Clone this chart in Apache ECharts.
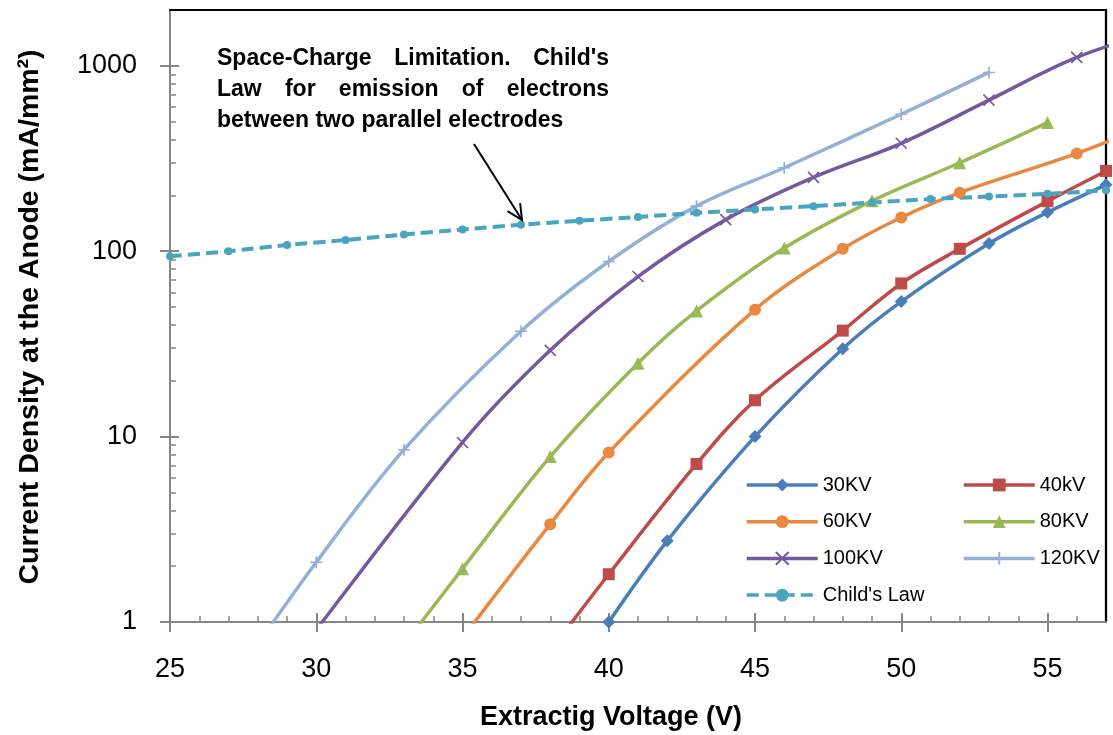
<!DOCTYPE html>
<html>
<head>
<meta charset="utf-8">
<script src="https://cdn.jsdelivr.net/npm/echarts@6/dist/echarts.min.js"></script>
<style>
html,body{margin:0;padding:0;background:#fff;}
#chart{width:1113px;height:735px;}
</style>
</head>
<body>
<div id="chart"></div>
<script>
// ---- data ----
const x30 = [40, 42, 45, 48, 50, 53, 55, 57];
const y30 = [1.0, 2.74, 10, 29.8, 53.5, 110, 162, 228];
const x40 = [38, 40, 43, 45, 48, 50, 52, 55, 57];
const y40 = [0.70, 1.81, 7.12, 15.7, 37.3, 67, 103, 186, 271];
const x60 = [35, 38, 40, 45, 48, 50, 52, 56, 59];
const y60 = [0.82, 3.37, 8.2, 48.4, 103, 152, 207, 337, 520];
const x80 = [32, 35, 38, 41, 43, 46, 49, 52, 55];
const y80 = [0.47, 1.94, 7.8, 24.9, 47.6, 104, 187, 300, 494];
const x100 = [29, 35, 38, 41, 44, 47, 50, 53, 56, 59];
const y100 = [0.56, 9.3, 29.2, 73, 148, 250, 382, 653, 1110, 1580];
const x120 = [27, 30, 33, 37, 40, 43, 46, 50, 53];
const y120 = [0.45, 2.1, 8.5, 37, 88, 175, 282, 548, 921];
const xChild = [25, 27, 29, 31, 33, 35, 37, 39, 41, 43, 45, 47, 49, 51, 53, 55, 57];
const yChild = [94, 100, 108, 115, 123, 131, 139, 146, 153, 161, 168, 175, 183, 191, 197, 204, 213];

const seriesNames = ['30KV', '40kV', '60KV', '80KV', '100KV', '120KV', "Child's Law"];
const xTicks = [25, 30, 35, 40, 45, 50, 55];
const yTicks = [1, 10, 100, 1000];
const yMinorTicks = [2, 3, 4, 5, 6, 7, 8, 9, 20, 30, 40, 50, 60, 70, 80, 90, 200, 300, 400, 500, 600, 700, 800, 900];
const xTitle = 'Extractig Voltage (V)';
const yTitle = 'Current Density at the Anode (mA/mm\u00B2)';
const noteLines = [
  ['Space-Charge', 'Limitation.', "Child's"],
  ['Law', 'for', 'emission', 'of', 'electrons'],
  ['between two parallel electrodes']
];

// ---- styling ----
const FONT = '"Liberation Sans", Arial, sans-serif';
const AXIS_GRAY = '#868686';
function pairs(xs, ys) { return xs.map((x, i) => [x, ys[i]]); }

const CROSS = 'path://M0,0L10,10M10,0L0,10';
const PLUS = 'path://M5,0L5,10M0,5L10,5';

function lineSeries(name, xs, ys, color, symbol, size, extra) {
  const stroked = (symbol === CROSS || symbol === PLUS);
  return Object.assign({
    name: name,
    type: 'line',
    data: pairs(xs, ys),
    smooth: 0.35,
    clip: true,
    symbol: symbol,
    symbolSize: size,
    showSymbol: true,
    lineStyle: { color: color, width: 3.5 },
    itemStyle: stroked ? { color: color, borderColor: color, borderWidth: 1.6 }
                       : { color: color, borderWidth: 0 },
    emphasis: { disabled: true },
    z: 3
  }, extra || {});
}

const chart = echarts.init(document.getElementById('chart'), null, { renderer: 'canvas' });

const series = [
  lineSeries(seriesNames[0], x30, y30, '#4A7EBB', 'diamond', 13),
  lineSeries(seriesNames[1], x40, y40, '#BE4B48', 'rect', 12),
  lineSeries(seriesNames[2], x60, y60, '#E9883F', 'circle', 12),
  lineSeries(seriesNames[3], x80, y80, '#98B954', 'triangle', 13),
  lineSeries(seriesNames[4], x100, y100, '#7559A0', CROSS, 11),
  lineSeries(seriesNames[5], x120, y120, '#93B0D8', PLUS, 12),
  lineSeries(seriesNames[6], xChild, yChild, '#48A5C0', 'circle', 8, {
    lineStyle: { color: '#48A5C0', width: 4, type: [12, 6] },
    smooth: 0.2
  })
];

// arrow geometry (annotation)
const arrowStart = [474, 144], arrowTip = [522, 220];
function headPts() {
  const dx = arrowStart[0] - arrowTip[0], dy = arrowStart[1] - arrowTip[1];
  const L = Math.hypot(dx, dy), ux = dx / L, uy = dy / L;
  const len = 17, a = 26 * Math.PI / 180;
  const r = (s) => [arrowTip[0] + len * (ux * Math.cos(s) - uy * Math.sin(s)),
                    arrowTip[1] + len * (ux * Math.sin(s) + uy * Math.cos(s))];
  return [r(a), arrowTip.slice(), r(-a)];
}

// justified annotation text
const annFont = 'bold 23px ' + FONT;
const measureCtx = document.createElement('canvas').getContext('2d');
measureCtx.font = annFont;
function justifiedLine(words, y, left, right, justify) {
  const widths = words.map(w => measureCtx.measureText(w).width);
  const total = widths.reduce((a, b) => a + b, 0);
  const gap = (justify && words.length > 1) ? (right - left - total) / (words.length - 1)
                                            : measureCtx.measureText(' ').width;
  let x = left;
  return words.map((w, i) => {
    const el = { type: 'text', x: x, y: y, z: 10,
      style: { text: w, font: annFont, fill: '#000', textAlign: 'left', textVerticalAlign: 'middle' } };
    x += widths[i] + gap;
    return el;
  });
}
const noteY = [59, 90, 121];
const noteEls = [].concat(
  justifiedLine(noteLines[0], noteY[0], 217, 609, true),
  justifiedLine(noteLines[1], noteY[1], 217, 609, true),
  justifiedLine(noteLines[2], noteY[2], 217, 609, false)
);

const legendCommon = {
  orient: 'vertical', top: 474, padding: 0,
  itemWidth: 71, itemHeight: 16, itemGap: 14.7,
  textStyle: { fontSize: 20, color: '#000', fontFamily: FONT, lineHeight: 22 },
  lineStyle: { width: 3.5 },
  selectedMode: false
};

const option = {
  animation: false,
  backgroundColor: '#fff',
  textStyle: { fontFamily: FONT },
  grid: { left: 170, top: 10, right: 7, bottom: 113, containLabel: false },
  legend: [
    Object.assign({ data: ['30KV', '60KV', '100KV', "Child's Law"], left: 745 }, legendCommon),
    Object.assign({ data: ['40kV', '80KV', '120KV'], left: 962 }, legendCommon)
  ],
  xAxis: [
    {
      type: 'value', min: 25, max: 57, interval: 5, position: 'bottom',
      axisLine: { show: true, lineStyle: { color: AXIS_GRAY, width: 2 } },
      axisTick: { show: true, inside: false, length: 10, customValues: xTicks, lineStyle: { color: AXIS_GRAY, width: 2 } },
      axisLabel: { show: true, customValues: xTicks, margin: 34, fontSize: 27, color: '#000', fontFamily: FONT,
                   formatter: (v) => String(Math.round(v)) },
      splitLine: { show: false }
    },
    {
      type: 'value', min: 25, max: 57, interval: 5, position: 'bottom',
      axisLine: { show: false },
      axisTick: { show: true, inside: true, length: 9, customValues: xTicks, lineStyle: { color: AXIS_GRAY, width: 2 } },
      minorTick: { show: true, splitNumber: 5, length: 6, lineStyle: { color: AXIS_GRAY, width: 1.5 } },
      axisLabel: { show: false },
      splitLine: { show: false }
    },
    {
      type: 'value', min: 25, max: 57, position: 'top',
      axisLine: { show: true, onZero: false, lineStyle: { color: '#000', width: 2 } },
      axisTick: { show: false }, axisLabel: { show: false }, splitLine: { show: false }
    }
  ],
  yAxis: [
    {
      type: 'log', logBase: 10, min: 1, max: 2000, position: 'left',
      axisLine: { show: true, lineStyle: { color: AXIS_GRAY, width: 2 } },
      axisTick: { show: true, inside: false, length: 10, customValues: yTicks, lineStyle: { color: AXIS_GRAY, width: 2 } },
      axisLabel: { show: true, customValues: yTicks, margin: 33, fontSize: 27, color: '#000', fontFamily: FONT,
                   formatter: (v) => String(Math.round(v)) },
      splitLine: { show: false }
    },
    {
      type: 'log', logBase: 10, min: 1, max: 2000, position: 'left',
      axisLine: { show: false },
      axisTick: { show: true, inside: true, length: 9, customValues: yTicks, lineStyle: { color: AXIS_GRAY, width: 2 } },
      axisLabel: { show: false }, splitLine: { show: false }
    },
    {
      type: 'log', logBase: 10, min: 1, max: 2000, position: 'left',
      axisLine: { show: false },
      axisTick: { show: true, inside: true, length: 6, customValues: yMinorTicks, lineStyle: { color: AXIS_GRAY, width: 1.5 } },
      axisLabel: { show: false }, splitLine: { show: false }
    },
    {
      type: 'log', logBase: 10, min: 1, max: 2000, position: 'right',
      axisLine: { show: true, onZero: false, lineStyle: { color: '#000', width: 2.3 } },
      axisTick: { show: false }, axisLabel: { show: false }, splitLine: { show: false }
    }
  ],
  series: series,
  graphic: [
    { type: 'text', x: 611, y: 718, z: 10,
      style: { text: xTitle, font: 'bold 27px ' + FONT, fill: '#000', textAlign: 'center', textVerticalAlign: 'middle' } },
    { type: 'text', x: 30, y: 317, rotation: Math.PI / 2, z: 10,
      style: { text: yTitle, font: 'bold 28.5px ' + FONT, fill: '#000', textAlign: 'center', textVerticalAlign: 'middle' } },
    { type: 'line', z: 10, shape: { x1: arrowStart[0], y1: arrowStart[1], x2: arrowTip[0], y2: arrowTip[1] },
      style: { stroke: '#000', lineWidth: 2 } },
    { type: 'polyline', z: 10, shape: { points: headPts() },
      style: { stroke: '#000', lineWidth: 2, fill: null } }
  ].concat(noteEls)
};

chart.setOption(option);
</script>
</body>
</html>
